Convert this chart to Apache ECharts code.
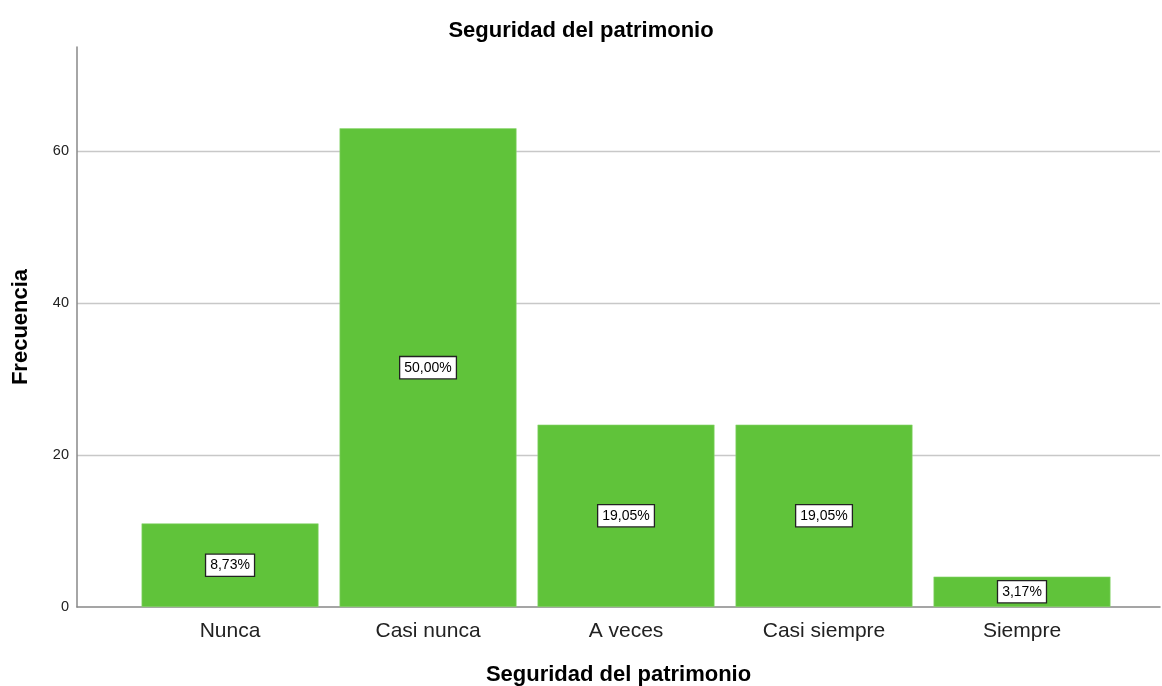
<!DOCTYPE html>
<html>
<head>
<meta charset="utf-8">
<script src="https://cdn.jsdelivr.net/npm/echarts@6/dist/echarts.min.js"></script>
<style>html,body{margin:0;padding:0;background:#fff}#c{width:1162px;height:686px}</style>
</head>
<body>
<div id="c"></div>
<script>
var categories = ['Nunca', 'Casi nunca', 'A veces', 'Casi siempre', 'Siempre'];
var counts = [11, 63, 24, 24, 4];
var pctLabels = ['8,73%', '50,00%', '19,05%', '19,05%', '3,17%'];

var chart = echarts.init(document.getElementById('c'), null, {renderer: 'canvas'});
var font = '"Liberation Sans", Arial, sans-serif';
chart.setOption({
  animation: false,
  textStyle: {fontFamily: font},
  title: {
    text: 'Seguridad del patrimonio', left: 'center', top: 15,
    textStyle: {fontFamily: font, fontSize: 22, fontWeight: 'bold', color: '#000'}
  },
  grid: {left: 77, right: 2, top: 47, bottom: 79, containLabel: false, outerBoundsMode: 'none'},
  xAxis: {
    type: 'value', min: -0.773, max: 4.697,
    name: 'Seguridad del patrimonio', nameLocation: 'middle', nameGap: 57,
    nameTextStyle: {fontFamily: font, fontSize: 22, fontWeight: 'bold', color: '#000'},
    axisLine: {show: true, onZero: false, lineStyle: {color: '#888', width: 1.5}},
    axisTick: {show: false},
    splitLine: {show: false},
    axisLabel: {
      customValues: [0, 1, 2, 3, 4], margin: 14,
      fontFamily: font, fontSize: 21, color: '#222',
      formatter: function (v) { return categories[Math.round(v)]; }
    }
  },
  yAxis: {
    type: 'value', min: 0, max: 73.7, interval: 20,
    name: 'Frecuencia', nameLocation: 'middle', nameGap: 45,
    nameTextStyle: {fontFamily: font, fontSize: 22, fontWeight: 'bold', color: '#000'},
    axisLine: {show: true, onZero: false, lineStyle: {color: '#888', width: 1.5}},
    axisTick: {show: false},
    axisLabel: {fontFamily: font, fontSize: 14.5, color: '#222', margin: 8, showMaxLabel: false},
    splitLine: {show: true, showMaxLine: false, showMinLine: false, lineStyle: {color: '#c8c8c8', width: 1.3}}
  },
  series: [{
    type: 'bar',
    barWidth: 177,
    data: counts.map(function (v, i) { return [i, v]; }),
    itemStyle: {color: '#60c33a', borderColor: '#8fd676', borderWidth: 0.6},
    label: {
      show: true, position: 'inside',
      formatter: function (p) { return pctLabels[p.dataIndex]; },
      fontFamily: font, fontSize: 14, color: '#000',
      backgroundColor: '#fff', borderColor: '#222', borderWidth: 1.3,
      padding: [4, 4, 3, 4]
    }
  }]
});
</script>
</body>
</html>
